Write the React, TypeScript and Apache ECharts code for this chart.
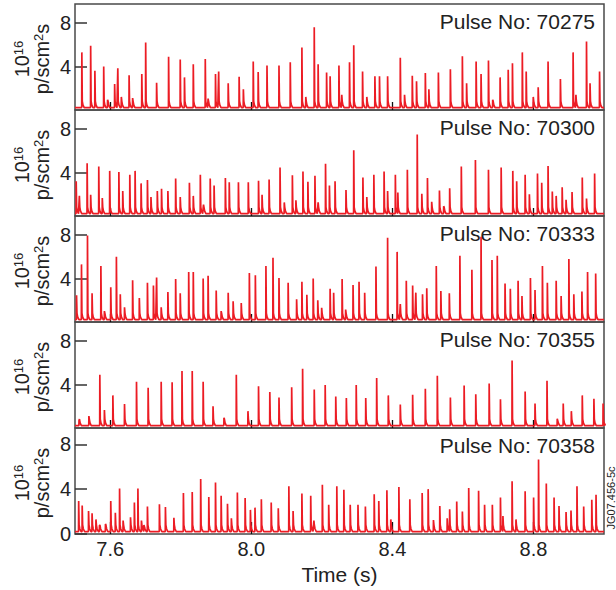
import React, { useEffect, useRef } from "react";
import * as echarts from "echarts";

// ELM spikes per pulse: [time (s), peak (10^16 p/scm^2s)]
const pulseNames = ["70275", "70300", "70333", "70355", "70358"];

const elms70275: [number, number][] = [
  [7.519, 5.3], [7.544, 5.9], [7.556, 3.6], [7.581, 4.0], [7.592, 0.95], [7.612, 2.4], [7.621, 3.85], [7.631, 1.2],
  [7.653, 3.2], [7.663, 1.1], [7.689, 3.3], [7.700, 6.2], [7.731, 2.5], [7.765, 4.9], [7.798, 4.65], [7.810, 3.0],
  [7.835, 4.2], [7.869, 4.7], [7.877, 1.05], [7.898, 3.3], [7.907, 3.55], [7.934, 2.45], [7.965, 3.05], [7.977, 1.9],
  [8.005, 4.45], [8.019, 3.5], [8.044, 4.1], [8.078, 4.1], [8.110, 4.4], [8.143, 5.75], [8.154, 1.2], [8.178, 7.6],
  [8.189, 4.2], [8.213, 3.45], [8.223, 3.1], [8.248, 4.1], [8.256, 1.4], [8.278, 4.4], [8.290, 5.95], [8.315, 3.55],
  [8.327, 1.2], [8.350, 3.1], [8.363, 3.1], [8.386, 3.1], [8.422, 4.8], [8.434, 1.4], [8.456, 3.15], [8.468, 2.65],
  [8.493, 3.4], [8.503, 1.9], [8.530, 3.45], [8.564, 3.75], [8.598, 4.95], [8.610, 2.45], [8.637, 4.45], [8.651, 3.3],
  [8.672, 4.55], [8.684, 0.95], [8.705, 3.0], [8.728, 3.7], [8.740, 4.3], [8.768, 5.3], [8.779, 3.55], [8.799, 1.2],
  [8.813, 2.1], [8.841, 4.45], [8.876, 2.85], [8.912, 5.3], [8.920, 1.4], [8.950, 6.3], [8.960, 2.45], [8.987, 3.55],
];

const elms70300: [number, number][] = [
  [7.503, 3.2], [7.512, 1.85], [7.534, 4.85], [7.544, 1.95], [7.567, 4.55], [7.577, 1.65], [7.598, 4.15], [7.624, 4.05],
  [7.635, 2.3], [7.655, 3.8], [7.670, 4.15], [7.687, 3.0], [7.705, 3.3], [7.715, 1.75], [7.733, 2.3], [7.745, 2.5],
  [7.763, 2.3], [7.785, 3.45], [7.798, 1.75], [7.824, 3.05], [7.835, 1.85], [7.855, 3.8], [7.864, 1.05], [7.883, 3.45],
  [7.894, 2.8], [7.926, 3.5], [7.937, 3.1], [7.963, 3.1], [7.991, 3.1], [8.020, 3.25], [8.030, 1.95], [8.050, 3.35],
  [8.081, 4.45], [8.093, 1.25], [8.116, 3.75], [8.126, 1.45], [8.146, 4.1], [8.160, 3.15], [8.180, 3.7], [8.189, 1.25],
  [8.210, 4.8], [8.221, 2.8], [8.237, 3.2], [8.268, 2.4], [8.290, 6.05], [8.316, 3.55], [8.327, 1.75], [8.347, 3.8],
  [8.376, 4.1], [8.386, 2.3], [8.408, 3.8], [8.415, 2.15], [8.442, 4.25], [8.470, 7.5], [8.483, 2.05], [8.499, 3.5],
  [8.511, 1.3], [8.533, 2.35], [8.545, 0.9], [8.562, 2.55], [8.595, 4.55], [8.635, 5.15], [8.672, 4.25], [8.708, 4.45],
  [8.741, 4.15], [8.752, 3.2], [8.776, 3.8], [8.788, 2.0], [8.811, 3.9], [8.823, 3.05], [8.841, 4.6], [8.853, 2.25],
  [8.864, 1.85], [8.881, 2.65], [8.892, 1.5], [8.909, 2.2], [8.938, 3.55], [8.950, 1.6], [8.973, 3.9],
];

const elms70333: [number, number][] = [
  [7.504, 2.45], [7.518, 5.3], [7.535, 7.95], [7.548, 2.65], [7.573, 5.15], [7.583, 1.0], [7.601, 3.2], [7.617, 6.0],
  [7.628, 2.55], [7.640, 1.35], [7.663, 3.85], [7.682, 2.2], [7.705, 3.6], [7.722, 3.35], [7.731, 4.1], [7.744, 1.35],
  [7.763, 2.75], [7.785, 3.95], [7.798, 2.65], [7.822, 4.6], [7.835, 4.6], [7.863, 4.0], [7.877, 4.25], [7.900, 2.9],
  [7.914, 1.0], [7.934, 2.7], [7.948, 1.9], [7.971, 1.75], [7.994, 4.5], [8.011, 4.3], [8.041, 5.15], [8.061, 5.9],
  [8.078, 4.05], [8.104, 3.6], [8.128, 2.1], [8.143, 3.7], [8.157, 2.5], [8.175, 4.0], [8.188, 2.0], [8.199, 1.3],
  [8.223, 3.05], [8.233, 2.7], [8.257, 3.95], [8.267, 1.15], [8.288, 3.4], [8.305, 3.7], [8.321, 2.7], [8.353, 5.1],
  [8.386, 7.75], [8.413, 6.45], [8.422, 1.65], [8.439, 3.8], [8.457, 3.35], [8.466, 2.7], [8.485, 2.55], [8.497, 3.1],
  [8.524, 5.15], [8.537, 2.85], [8.561, 2.65], [8.591, 6.1], [8.625, 4.8], [8.651, 7.85], [8.682, 5.7], [8.697, 6.1],
  [8.719, 3.55], [8.734, 3.05], [8.756, 3.8], [8.767, 2.4], [8.791, 4.05], [8.804, 2.95], [8.825, 5.15], [8.839, 3.6],
  [8.864, 3.8], [8.878, 2.4], [8.900, 5.8], [8.914, 2.55], [8.937, 2.8], [8.953, 4.6], [8.976, 4.45],
];

const elms70355: [number, number][] = [
  [7.511, 0.7], [7.539, 1.1], [7.570, 4.9], [7.583, 1.65], [7.607, 3.0], [7.640, 2.2], [7.674, 4.25], [7.707, 3.7],
  [7.744, 4.25], [7.775, 4.2], [7.803, 5.25], [7.832, 5.25], [7.863, 4.25], [7.891, 2.0], [7.922, 0.95], [7.957, 4.9],
  [7.990, 1.55], [8.020, 3.85], [8.052, 3.3], [8.078, 2.8], [8.114, 3.75], [8.145, 5.45], [8.178, 3.55], [8.209, 3.95],
  [8.239, 2.9], [8.269, 2.75], [8.297, 3.95], [8.324, 2.75], [8.355, 4.6], [8.388, 3.0], [8.422, 2.15], [8.457, 3.05],
  [8.493, 3.6], [8.527, 4.8], [8.564, 2.8], [8.603, 3.9], [8.636, 3.1], [8.674, 4.1], [8.706, 2.65], [8.739, 6.2],
  [8.776, 3.35], [8.804, 2.25], [8.838, 4.35], [8.867, 0.85], [8.884, 2.25], [8.907, 1.55], [8.938, 3.0], [8.971, 2.7],
  [8.997, 2.25],
];

const elms70358: [number, number][] = [
  [7.510, 2.95], [7.520, 2.55], [7.538, 2.05], [7.548, 1.85], [7.559, 1.3], [7.569, 0.75], [7.586, 0.9], [7.601, 2.95],
  [7.614, 1.9], [7.626, 4.05], [7.636, 1.2], [7.657, 1.5], [7.668, 2.8], [7.678, 4.05], [7.688, 1.2], [7.695, 0.8],
  [7.705, 2.45], [7.739, 2.65], [7.756, 2.4], [7.780, 1.45], [7.807, 3.65], [7.832, 3.75], [7.856, 4.9], [7.879, 3.3],
  [7.898, 4.6], [7.914, 3.4], [7.932, 2.7], [7.943, 1.4], [7.960, 3.7], [7.982, 3.2], [7.997, 2.15], [8.010, 2.35],
  [8.028, 3.1], [8.056, 2.8], [8.076, 2.3], [8.106, 4.25], [8.118, 2.05], [8.143, 3.6], [8.168, 3.4], [8.177, 1.2],
  [8.201, 4.4], [8.219, 2.6], [8.242, 4.25], [8.262, 3.95], [8.280, 2.6], [8.302, 2.6], [8.323, 2.45], [8.348, 3.55],
  [8.361, 2.95], [8.384, 3.9], [8.395, 1.3], [8.418, 4.2], [8.449, 3.1], [8.484, 3.65], [8.501, 4.0], [8.516, 1.25],
  [8.534, 2.5], [8.555, 1.4], [8.562, 2.2], [8.582, 2.9], [8.598, 2.0], [8.616, 4.1], [8.644, 3.85], [8.661, 2.6],
  [8.683, 2.6], [8.706, 3.25], [8.713, 1.6], [8.739, 4.7], [8.750, 1.3], [8.776, 3.8], [8.800, 3.25], [8.814, 6.65],
  [8.836, 4.5], [8.858, 3.25], [8.872, 2.5], [8.892, 1.95], [8.906, 2.1], [8.923, 4.25], [8.942, 2.45], [8.965, 3.05],
  [8.977, 3.5],
];

const panels = [elms70275, elms70300, elms70333, elms70355, elms70358];

const xTicks = [7.6, 8.0, 8.4, 8.8];
const yTicks = [4, 8];
const yTicksBottom = [0, 4, 8];
const yMaxes = [9.75, 9.75, 9.75, 9.75, 9.45];
const X_MIN = 7.5;
const X_MAX = 9.0;
const BASE = 0.22;

const FONT = '"Liberation Sans", Arial, Helvetica, sans-serif';
const TEXT = "#222";
const RED = "#ec1c24";

function buildTrace(spikes: [number, number][]): [number, number][] {
  const pts: [number, number][] = [[X_MIN, BASE]];
  spikes.forEach(([t, p]) => {
    pts.push([t, BASE], [t + 0.0004, p], [t + 0.0016, BASE + 0.6], [t + 0.0035, BASE + 0.25], [t + 0.007, BASE]);
  });
  pts.push([X_MAX, BASE]);
  pts.sort((a, b) => a[0] - b[0]);
  return pts;
}

export default function App() {
  const ref = useRef<HTMLDivElement>(null);

  useEffect(() => {
    if (!ref.current) return;
    const chart = echarts.init(ref.current, null, { renderer: "svg" });
    const TOP = 4;
    const H = 106;
    const LEFT = 75;
    const W = 529;

    const grid = panels.map((_, i) => ({
      left: LEFT,
      top: TOP + i * H,
      width: W,
      height: H,
      show: true,
      borderColor: "#4a4a4a",
      borderWidth: 1.5,
      backgroundColor: "transparent",
    }));

    const xAxis = panels.map((_, i) => ({
      gridIndex: i,
      type: "value",
      min: X_MIN,
      max: X_MAX,
      axisLine: { show: false },
      splitLine: { show: false },
      axisTick: {
        show: true,
        inside: true,
        length: i === 4 ? 12 : 8,
        customValues: xTicks,
        lineStyle: { color: "#111", width: 1.3 },
      },
      axisLabel: {
        show: i === 4,
        customValues: xTicks,
        formatter: (v: number) => v.toFixed(1),
        fontSize: 20,
        fontFamily: FONT,
        color: TEXT,
        margin: 5,
      },
    }));

    const yAxis = panels.map((_, i) => ({
      gridIndex: i,
      type: "value",
      min: 0,
      max: yMaxes[i],
      axisLine: { show: false },
      splitLine: { show: false },
      axisTick: {
        show: true,
        inside: true,
        length: 12,
        customValues: i === 4 ? yTicksBottom : yTicks,
        lineStyle: { color: "#333", width: 1.5 },
      },
      axisLabel: {
        customValues: i === 4 ? yTicksBottom : yTicks,
        fontSize: 20,
        fontFamily: FONT,
        color: TEXT,
        margin: 4,
      },
    }));

    const series = panels.map((spikes, i) => ({
      type: "line",
      xAxisIndex: i,
      yAxisIndex: i,
      data: buildTrace(spikes),
      showSymbol: false,
      silent: true,
      clip: true,
      lineStyle: { color: RED, width: 1.7 },
    }));

    const graphic: any[] = [];
    panels.forEach((_, i) => {
      graphic.push({
        type: "text",
        x: 595,
        y: TOP + i * H + 17,
        style: {
          text: "Pulse No: " + pulseNames[i],
          fontSize: 21,
          fontFamily: FONT,
          fill: TEXT,
          align: "right",
          verticalAlign: "middle",
        },
      });
      graphic.push({
        type: "text",
        x: 32,
        y: TOP + i * H + H / 2 + 2,
        rotation: Math.PI / 2,
        style: {
          text: "{n|10}{s|16}\n{n|p/scm}{s|2}{n|s}",
          align: "center",
          verticalAlign: "middle",
          fill: TEXT,
          fontFamily: FONT,
          rich: {
            n: { fontSize: 20, fontFamily: FONT, fill: TEXT, lineHeight: 20, verticalAlign: "bottom" },
            s: { fontSize: 13, fontFamily: FONT, fill: TEXT, lineHeight: 20, verticalAlign: "top" },
          },
        },
      });
    });
    graphic.push({
      type: "text",
      x: 339.5,
      y: 574,
      style: {
        text: "Time (s)",
        fontSize: 21,
        fontFamily: FONT,
        fill: TEXT,
        align: "center",
        verticalAlign: "middle",
      },
    });
    graphic.push({
      type: "text",
      x: 611,
      y: 498,
      rotation: Math.PI / 2,
      style: {
        text: "JG07.456-5c",
        fontSize: 11,
        fontFamily: FONT,
        fill: TEXT,
        align: "center",
        verticalAlign: "middle",
      },
    });

    chart.setOption({
      animation: false,
      backgroundColor: "#fff",
      grid,
      xAxis,
      yAxis,
      series,
      graphic,
    } as any);

    return () => chart.dispose();
  }, []);

  return (
    <div
      ref={ref}
      style={{ position: "absolute", left: 0, top: 0, width: 616, height: 590 }}
    />
  );
}
